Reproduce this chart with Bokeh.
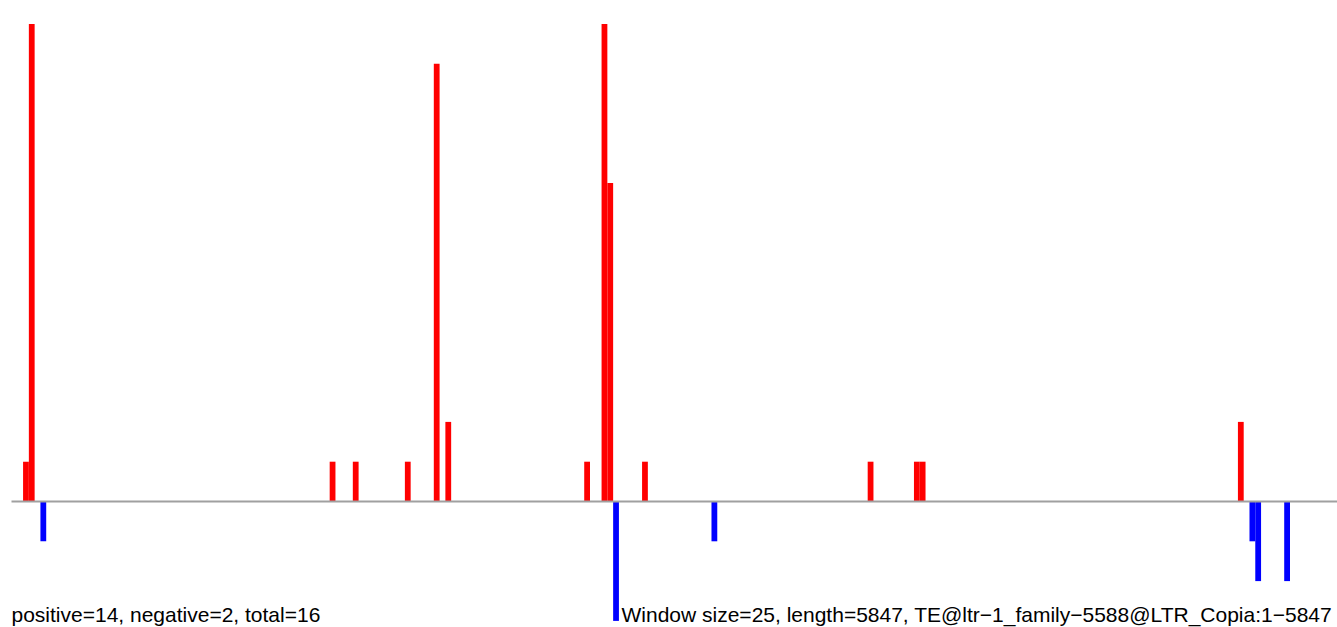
from bokeh.plotting import figure
from bokeh.models import Range1d, Label
from bokeh.embed import file_html
from bokeh.resources import INLINE

# ---- data (window starts in bp, window size 25) ----
window_size = 25
seq_length = 5847
pos_starts = [50, 75, 1375, 1475, 1700, 1825, 1875, 2475, 2550, 2575, 2725, 3700, 3900, 3925, 5300]
pos_values = [1, 12, 1, 1, 1, 11, 2, 1, 12, 8, 1, 1, 1, 1, 2]
neg_starts = [125, 2600, 3025, 5350, 5375, 5500]
neg_values = [-1, -3, -1, -1, -2, -2]
left_text = "positive=14, negative=2, total=16"
right_text = "Window size=25, length=5847, TE@ltr\u22121_family\u22125588@LTR_Copia:1\u22125847"

W, H = 1337, 627
px_per_bp = 5.785 / 25.0
x0 = -11 / px_per_bp
x1 = x0 + W / px_per_bp
px_per_unit = 39.8
base_y = 501
y_top = base_y / px_per_unit
y_bot = (base_y - H) / px_per_unit

p = figure(width=W, height=H, output_backend="svg", toolbar_location=None,
           x_range=Range1d(x0, x1), y_range=Range1d(y_bot, y_top),
           min_border=0, min_border_left=0, min_border_right=0,
           min_border_top=0, min_border_bottom=0)
p.axis.visible = False
p.grid.visible = False
p.outline_line_color = None
p.background_fill_color = "white"
p.border_fill_color = "white"

p.quad(left=pos_starts, right=[s + window_size for s in pos_starts],
       bottom=0, top=pos_values, fill_color="#FF0000", line_color=None)
p.quad(left=neg_starts, right=[s + window_size for s in neg_starts],
       bottom=0, top=neg_values, fill_color="#0000FF", line_color=None)

p.segment(x0=[0], y0=[0], x1=[x1 + 100], y1=[0], line_color="#A0A0A0", line_width=2)

text_y = (base_y - 614) / px_per_unit
p.add_layout(Label(x=0, y=text_y, text=left_text, text_font="Liberation Sans",
                   text_font_size="21px", text_color="black", text_baseline="alphabetic"))
p.add_layout(Label(x=(621 - 11) / px_per_bp, y=text_y, text=right_text,
                   text_font="Liberation Sans", text_font_size="21px",
                   text_color="black", text_baseline="alphabetic"))

open("out.html", "w").write(file_html(p, INLINE))
